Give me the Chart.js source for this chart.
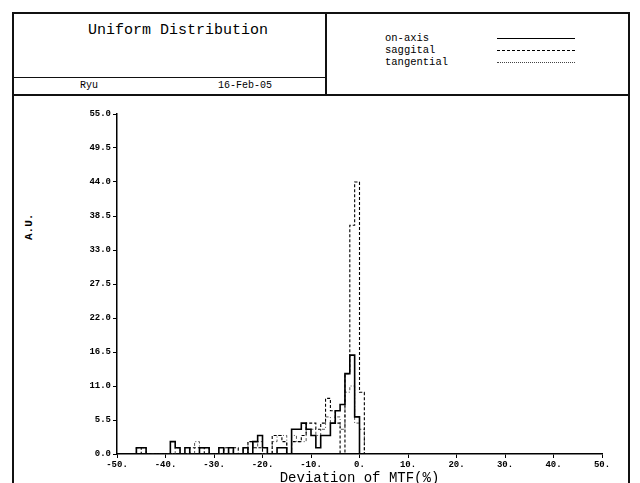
<!DOCTYPE html>
<html>
<head>
<meta charset="utf-8">
<script src="https://cdn.jsdelivr.net/npm/chart.js@4/dist/chart.umd.min.js"></script>
<style>
  html, body { margin: 0; padding: 0; width: 640px; height: 483px; overflow: hidden; background: #fff; }
  body { position: relative; font-family: "Liberation Mono", "DejaVu Sans Mono", monospace; color: #000; }
  .ln { position: absolute; background: #111; }
  .txt { position: absolute; white-space: pre; line-height: 1; }
  #graph { position: absolute; left: 0; top: 95px; }
</style>
</head>
<body>
<!-- frame and header boxes -->
<div class="ln" style="left:12px; top:12px; width:617px; height:1.5px"></div>
<div class="ln" style="left:12px; top:12px; width:1.5px; height:480px"></div>
<div class="ln" style="left:628px; top:12px; width:1.5px; height:480px"></div>
<div class="ln" style="left:12px; top:94px; width:617px; height:1.5px"></div>
<div class="ln" style="left:325px; top:12px; width:1.5px; height:83px"></div>
<div class="ln" style="left:12px; top:77px; width:313px; height:1px"></div>

<div class="txt" style="left:88px; top:23px; font-size:15px">Uniform Distribution</div>
<div class="txt" style="left:80px; top:81px; font-size:10px">Ryu</div>
<div class="txt" style="left:218px; top:81px; font-size:10px">16-Feb-05</div>

<div class="txt" style="left:385px; top:33px; font-size:10.5px">on-axis</div>
<div class="txt" style="left:385px; top:45px; font-size:10.5px">saggital</div>
<div class="txt" style="left:385px; top:57px; font-size:10.5px">tangential</div>
<div style="position:absolute; left:497px; top:38px; width:78px; border-top:1.5px solid #000"></div>
<div style="position:absolute; left:497px; top:50px; width:78px; border-top:1px dashed #000"></div>
<div style="position:absolute; left:497px; top:62px; width:78px; border-top:1px dotted #444"></div>

<div class="txt" style="left:24px; top:240px; font-size:11px; font-weight:bold; transform:rotate(-90deg); transform-origin:left top">A.U.</div>

<canvas id="graph" width="640" height="400"></canvas>

<script>
// histogram bins, 1 unit wide, left edges
const binLeft = [];
for (let e = -46; e <= 1; e++) binLeft.push(e);

const onAxis = [0, 1, 1, 0, 0, 0, 0, 0, 2, 1, 0, 1, 0, 0, 1, 1, 0, 0, 1, 0,
                1, 0, 0, 1, 0, 2, 3, 1, 0, 0, 1, 1, 0, 4, 4, 5, 4, 3, 1, 3,
                3, 5, 7, 8, 13, 16, 6, 0];
const saggital = [0, 1, 0, 0, 0, 0, 0, 0, 0, 0, 0, 0, 1, 1, 1, 0, 0, 0, 0, 1,
                  0, 1, 0, 0, 2, 1, 1, 0, 0, 3, 3, 2, 0, 2, 2, 3, 5, 5, 4, 5,
                  9, 7, 5, 0, 13, 37, 44, 10];
const tangential = [0, 1, 1, 0, 0, 0, 0, 0, 0, 1, 0, 0, 0, 2, 1, 1, 0, 0, 0, 1,
                    0, 0, 0, 1, 2, 1, 2, 0, 0, 2, 3, 3, 0, 3, 2, 2, 4, 4, 3, 4,
                    6, 5, 6, 4, 10, 11, 5, 4];

const yTicks = [0, 5.5, 11, 16.5, 22, 27.5, 33, 38.5, 44, 49.5, 55];
const xTicks = [-50, -40, -30, -20, -10, 0, 10, 20, 30, 40, 50];

function steps(counts) {
    let pts = [];
    for (let i = 0; i < binLeft.length; i++) {
        pts.push({ x: binLeft[i], y: counts[i] });
    }
    pts.push({ x: binLeft[binLeft.length - 1] + 1, y: 0 });
    return pts;
}

const mono = "'Liberation Mono', 'DejaVu Sans Mono', monospace";
const ctx = document.getElementById("graph").getContext('2d');

let myChart = new Chart(ctx, {
    type: "line",
    data: {
        datasets: [
            { label: "on-axis", data: steps(onAxis), borderColor: "#000", borderWidth: 1.6 },
            { label: "saggital", data: steps(saggital), borderColor: "#000", borderWidth: 1.1, borderDash: [3, 2] },
            { label: "tangential", data: steps(tangential), borderColor: "#555", borderWidth: 1, borderDash: [1, 2, 3, 2] }
        ]
    },
    options: {
        responsive: false,
        animation: false,
        devicePixelRatio: 1,
        layout: { padding: { left: 0, right: 38, top: 19, bottom: 0 } },
        elements: { point: { radius: 0 }, line: { stepped: "after", tension: 0, fill: false } },
        plugins: { legend: { display: false }, tooltip: { enabled: false } },
        scales: {
            x: {
                type: "linear",
                min: -50, max: 50,
                afterBuildTicks: s => { s.ticks = xTicks.map(v => ({ value: v })); },
                afterFit: s => { s.height = 41; },
                ticks: {
                    callback: v => v + ".",
                    color: "#000",
                    font: { family: mono, size: 9, weight: "bold" },
                    padding: 1,
                    maxRotation: 0
                },
                grid: { drawOnChartArea: false, drawTicks: true, tickLength: 4, color: "#000" },
                border: { color: "#000", width: 1.5 },
                title: {
                    display: true,
                    text: "Deviation of MTF(%)",
                    color: "#000",
                    font: { family: mono, size: 14 },
                    padding: { top: 0, bottom: 8 }
                }
            },
            y: {
                min: 0, max: 55,
                afterBuildTicks: s => { s.ticks = yTicks.map(v => ({ value: v })); },
                afterFit: s => { s.width = 117; },
                ticks: {
                    callback: v => v.toFixed(1),
                    color: "#000",
                    font: { family: mono, size: 9, weight: "bold" },
                    padding: 2
                },
                grid: { drawOnChartArea: false, drawTicks: true, tickLength: 4, color: "#000" },
                border: { color: "#000", width: 1.5 }
            }
        }
    }
});
</script>
</body>
</html>
